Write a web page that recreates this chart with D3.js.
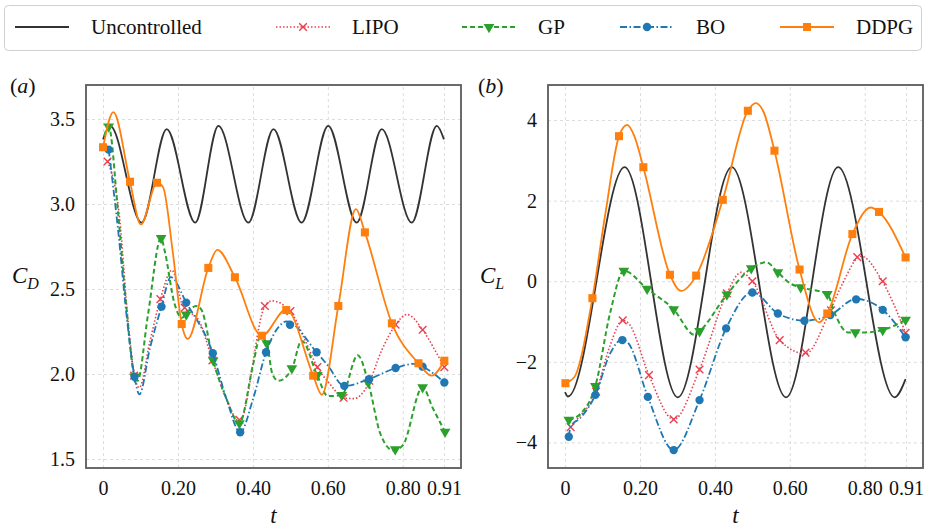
<!DOCTYPE html>
<html>
<head>
<meta charset="utf-8">
<title>CD / CL</title>
<script src="https://cdn.jsdelivr.net/npm/d3@7"></script>
<style>
body{margin:0;background:#fff}
svg text{font-family:"Times New Roman","Liberation Serif",Times,"DejaVu Serif",serif !important;fill:#111}
</style>
</head>
<body>
<script>
// ---- data: [t, value] ----
var names = ["Uncontrolled", "LIPO", "GP", "BO", "DDPG"];
var colors = ["#333333", "#e8404f", "#2ca02c", "#1f77b4", "#ff7f0e"];

var tTicks = [0, 0.2, 0.4, 0.6, 0.8, 0.91];
var tTickLabels = ["0", "0.20", "0.40", "0.60", "0.80", "0.91"];
var cdTicks = [1.5, 2.0, 2.5, 3.0, 3.5];
var cdTickLabels = ["1.5", "2.0", "2.5", "3.0", "3.5"];
var clTicks = [-4, -2, 0, 2, 4];
var clTickLabels = ["\u22124", "\u22122", "0", "2", "4"];

// panel (a) drag
var cdUncontrolled = [[0,3.38],[0.019,3.46],[0.103,2.89],[0.170,3.44],[0.246,2.89],[0.308,3.46],[0.388,2.89],
  [0.455,3.44],[0.530,2.89],[0.601,3.46],[0.677,2.89],[0.744,3.44],[0.824,2.89],[0.891,3.46],[0.91,3.38]];
var cdLipo = [[0.012,3.25],[0.044,2.92],[0.066,2.33],[0.085,1.98],[0.097,1.92],[0.124,2.18],[0.153,2.44],[0.184,2.61],
  [0.213,2.40],[0.257,2.31],[0.292,2.08],[0.33,1.85],[0.364,1.72],[0.432,2.40],[0.45,2.43],[0.50,2.37],[0.535,2.22],
  [0.572,2.04],[0.606,1.94],[0.642,1.86],[0.67,1.855],[0.708,1.94],[0.744,2.14],[0.781,2.29],[0.811,2.35],[0.853,2.26],
  [0.886,2.14],[0.911,2.04]];
var cdLipoMarks = [[0.012,3.25],[0.083,1.99],[0.153,2.44],[0.218,2.39],[0.292,2.08],[0.364,1.73],[0.432,2.40],[0.50,2.37],
  [0.572,2.04],[0.642,1.86],[0.711,1.96],[0.781,2.29],[0.853,2.26],[0.911,2.04]];
var cdGp = [[0.003,3.40],[0.015,3.455],[0.04,2.95],[0.062,2.40],[0.084,1.984],[0.092,1.96],[0.12,2.35],[0.155,2.80],
  [0.165,2.72],[0.19,2.42],[0.21,2.33],[0.228,2.37],[0.248,2.40],[0.262,2.38],[0.294,2.08],[0.33,1.85],[0.364,1.71],
  [0.40,2.05],[0.42,2.22],[0.437,2.18],[0.452,2.0],[0.468,1.96],[0.504,2.03],[0.53,2.196],[0.572,1.99],[0.60,1.87],
  [0.637,1.876],[0.68,2.11],[0.708,1.95],[0.74,1.65],[0.775,1.55],[0.80,1.58],[0.853,1.922],[0.88,1.80],[0.913,1.66]];
var cdGpMarks = [[0.015,3.455],[0.084,1.984],[0.155,2.80],[0.222,2.35],[0.294,2.08],[0.364,1.71],[0.437,2.18],[0.504,2.033],
  [0.572,1.994],[0.637,1.876],[0.708,1.95],[0.78,1.557],[0.853,1.922],[0.913,1.66]];
var cdBo = [[0.015,3.32],[0.04,2.85],[0.065,2.30],[0.084,1.984],[0.097,1.88],[0.125,2.15],[0.156,2.396],[0.181,2.57],
  [0.222,2.42],[0.293,2.122],[0.33,1.85],[0.366,1.657],[0.40,1.85],[0.435,2.128],[0.47,2.28],[0.49,2.31],[0.57,2.128],
  [0.60,2.05],[0.644,1.93],[0.71,1.97],[0.781,2.035],[0.83,2.06],[0.853,2.043],[0.911,1.95]];
var cdBoMarks = [[0.015,3.32],[0.084,1.984],[0.156,2.396],[0.222,2.42],[0.293,2.122],[0.366,1.657],[0.435,2.128],[0.499,2.29],
  [0.57,2.128],[0.644,1.93],[0.71,1.97],[0.781,2.035],[0.853,2.043],[0.911,1.95]];
var cdDdpg = [[0,3.33],[0.0275,3.54],[0.072,3.13],[0.101,2.88],[0.144,3.125],[0.16,3.10],[0.186,2.72],[0.21,2.294],
  [0.226,2.206],[0.281,2.624],[0.305,2.73],[0.352,2.569],[0.424,2.225],[0.489,2.38],[0.561,1.99],[0.584,1.878],
  [0.628,2.40],[0.675,2.97],[0.699,2.833],[0.771,2.298],[0.842,2.063],[0.877,1.99],[0.911,2.078]];
var cdDdpgMarks = [[0,3.334],[0.072,3.131],[0.144,3.125],[0.21,2.294],[0.281,2.624],[0.352,2.569],[0.424,2.225],[0.489,2.376],
  [0.561,1.99],[0.628,2.40],[0.699,2.833],[0.771,2.298],[0.842,2.063],[0.911,2.078]];

// panel (b) lift
var clUncontrolled = [[0,-2.75],[0.008,-2.86],[0.159,2.83],[0.301,-2.88],[0.445,2.83],[0.59,-2.88],[0.729,2.83],
  [0.88,-2.88],[0.909,-2.43]];
var clLipo = [[0.015,-3.63],[0.03,-3.45],[0.083,-2.74],[0.12,-1.6],[0.154,-0.97],[0.17,-1.05],[0.224,-2.33],[0.29,-3.43],
  [0.359,-2.19],[0.432,-0.30],[0.47,0.22],[0.50,0.0],[0.573,-1.46],[0.642,-1.80],[0.704,-0.81],[0.74,-0.07],[0.79,0.62],
  [0.848,-0.02],[0.909,-1.28]];
var clLipoMarks = [[0.015,-3.62],[0.083,-2.74],[0.154,-0.97],[0.224,-2.33],[0.29,-3.43],[0.359,-2.19],[0.432,-0.30],[0.50,0.0],
  [0.573,-1.46],[0.642,-1.77],[0.71,-0.72],[0.78,0.6],[0.848,0.0],[0.909,-1.28]];
var clGp = [[0.01,-3.44],[0.04,-3.3],[0.081,-2.60],[0.12,-0.8],[0.157,0.26],[0.219,-0.19],[0.29,-0.70],[0.346,-1.33],
  [0.359,-1.24],[0.432,-0.33],[0.497,0.32],[0.537,0.47],[0.568,0.22],[0.6,-0.05],[0.629,-0.15],[0.70,-0.32],[0.72,-0.8],
  [0.755,-1.27],[0.80,-1.27],[0.848,-1.21],[0.909,-0.96]];
var clGpMarks = [[0.01,-3.44],[0.081,-2.60],[0.157,0.26],[0.219,-0.19],[0.29,-0.70],[0.359,-1.24],[0.432,-0.33],[0.497,0.32],
  [0.568,0.22],[0.629,-0.15],[0.70,-0.32],[0.775,-1.27],[0.848,-1.21],[0.909,-0.96]];
var clBo = [[0.01,-3.86],[0.015,-3.6],[0.04,-3.4],[0.081,-2.82],[0.12,-1.8],[0.153,-1.44],[0.17,-1.55],[0.221,-2.87],
  [0.29,-4.19],[0.359,-2.95],[0.43,-1.17],[0.50,-0.27],[0.568,-0.80],[0.639,-0.98],[0.708,-0.84],[0.777,-0.44],
  [0.848,-0.71],[0.909,-1.39]];
var clBoMarks = [[0.01,-3.86],[0.081,-2.82],[0.153,-1.46],[0.221,-2.87],[0.29,-4.19],[0.359,-2.95],[0.43,-1.17],[0.50,-0.28],
  [0.568,-0.80],[0.639,-0.98],[0.708,-0.84],[0.777,-0.45],[0.848,-0.71],[0.909,-1.39]];
var clDdpg = [[0,-2.53],[0.024,-2.39],[0.073,-0.42],[0.108,1.7],[0.144,3.60],[0.166,3.88],[0.185,3.6],[0.209,2.83],
  [0.28,0.16],[0.31,-0.24],[0.35,0.14],[0.421,2.02],[0.488,4.23],[0.509,4.42],[0.53,4.2],[0.559,3.24],[0.626,0.29],
  [0.678,-1.02],[0.70,-0.80],[0.767,1.17],[0.816,1.83],[0.838,1.72],[0.909,0.59]];
var clDdpgMarks = [[0.001,-2.53],[0.073,-0.42],[0.144,3.60],[0.209,2.83],[0.28,0.16],[0.35,0.14],[0.421,2.02],[0.488,4.23],
  [0.559,3.24],[0.626,0.29],[0.70,-0.80],[0.767,1.17],[0.838,1.72],[0.909,0.59]];

// ---- drawing ----
var svg = d3.select("body").append("svg").attr("width", 926).attr("height", 528);

var dashes = ["none", "1.5,2", "5,3", "7,2.5,1.5,2.5", "none"];
var widths = [1.8, 1.6, 2, 1.8, 1.8];
var symbols = [null, d3.symbolX, d3.symbolTriangle, d3.symbolCircle, d3.symbolSquare];
var symSize = [0, 40, 50, 55, 65];

function marker(g, i, x, y) {
  if (!symbols[i]) return;
  var p = g.append("path")
    .attr("d", d3.symbol().type(symbols[i]).size(symSize[i])())
    .attr("transform", "translate(" + x + "," + y + ")" + (i == 2 ? " rotate(180)" : ""));
  if (i == 1) p.attr("fill", "none").attr("stroke", colors[i]).attr("stroke-width", 1.4);
  else p.attr("fill", colors[i]);
}

function panel(o) {
  var x = d3.scaleLinear().domain([-0.0455, 0.9555]).range([o.x0, o.x1]);
  var y = d3.scaleLinear().domain(o.yDomain).range([o.y1, o.y0]);
  var g = svg.append("g");

  // grid
  g.append("g").attr("transform", "translate(0," + o.y1 + ")")
    .call(d3.axisBottom(x).tickValues(tTicks).tickSize(-(o.y1 - o.y0)).tickFormat(""))
    .call(function (s) { s.select(".domain").remove(); });
  g.append("g").attr("transform", "translate(" + o.x0 + ",0)")
    .call(d3.axisLeft(y).tickValues(o.yTicks).tickSize(-(o.x1 - o.x0)).tickFormat(""))
    .call(function (s) { s.select(".domain").remove(); });
  g.selectAll(".tick line").attr("stroke", "#dcdcdc").attr("stroke-dasharray", "3,3").attr("stroke-width", 1);

  // tick labels
  var xa = g.append("g").attr("transform", "translate(0," + o.y1 + ")")
    .call(d3.axisBottom(x).tickValues(tTicks).tickSize(0).tickPadding(13)
      .tickFormat(function (d, i) { return tTickLabels[i]; }));
  var ya = g.append("g").attr("transform", "translate(" + o.x0 + ",0)")
    .call(d3.axisLeft(y).tickValues(o.yTicks).tickSize(0).tickPadding(11)
      .tickFormat(function (d, i) { return o.yLabels[i]; }));
  [xa, ya].forEach(function (a) {
    a.select(".domain").remove();
    a.attr("font-family", null).attr("font-size", null);
    a.selectAll("text").attr("font-size", 20).attr("fill", "#111");
  });

  var clipId = "clip" + o.id;
  svg.append("clipPath").attr("id", clipId).append("rect")
    .attr("x", o.x0).attr("y", o.y0).attr("width", o.x1 - o.x0).attr("height", o.y1 - o.y0);

  var line = d3.line().x(function (d) { return x(d[0]); }).y(function (d) { return y(d[1]); })
    .curve(d3.curveMonotoneX);
  var plot = g.append("g").attr("clip-path", "url(#" + clipId + ")");
  o.series.forEach(function (s, i) {
    plot.append("path").datum(s.line)
      .attr("d", line).attr("fill", "none")
      .attr("stroke", colors[i]).attr("stroke-width", widths[i])
      .attr("stroke-dasharray", dashes[i]);
    if (s.marks) s.marks.forEach(function (d) { marker(plot, i, x(d[0]), y(d[1])); });
  });

  // frame
  g.append("rect").attr("x", o.x0).attr("y", o.y0).attr("width", o.x1 - o.x0).attr("height", o.y1 - o.y0)
    .attr("fill", "none").attr("stroke", "#5a5a5a").attr("stroke-width", 1.8);

  // labels
  var lab = g.append("text").attr("x", o.lx).attr("y", 93).attr("font-size", 22);
  lab.append("tspan").text("(");
  lab.append("tspan").attr("font-style", "italic").text(o.letter);
  lab.append("tspan").text(")");

  var yl = g.append("text").attr("x", o.lx + 2).attr("y", 283).attr("font-size", 23).attr("font-style", "italic");
  yl.append("tspan").text("C");
  yl.append("tspan").attr("font-size", 16).attr("dy", 6).text(o.sub);

  g.append("text").attr("x", (o.x0 + o.x1) / 2).attr("y", 523).attr("text-anchor", "middle")
    .attr("font-size", 23).attr("font-style", "italic").text("t");
}

panel({
  id: "a", x0: 86, x1: 461, y0: 85, y1: 468, yDomain: [1.447, 3.70], yTicks: cdTicks, yLabels: cdTickLabels,
  letter: "a", sub: "D", lx: 10,
  series: [{line: cdUncontrolled}, {line: cdLipo, marks: cdLipoMarks}, {line: cdGp, marks: cdGpMarks},
    {line: cdBo, marks: cdBoMarks}, {line: cdDdpg, marks: cdDdpgMarks}]
});
panel({
  id: "b", x0: 548, x1: 923, y0: 85, y1: 468, yDomain: [-4.635, 4.87], yTicks: clTicks, yLabels: clTickLabels,
  letter: "b", sub: "L", lx: 478,
  series: [{line: clUncontrolled}, {line: clLipo, marks: clLipoMarks}, {line: clGp, marks: clGpMarks},
    {line: clBo, marks: clBoMarks}, {line: clDdpg, marks: clDdpgMarks}]
});

// legend
var leg = svg.append("g");
leg.append("rect").attr("x", 4.5).attr("y", 5.5).attr("width", 917).attr("height", 45).attr("rx", 4)
  .attr("fill", "#fff").attr("stroke", "#d0d0d0").attr("stroke-width", 1);
var legX = [15, 276, 462, 620, 780];
names.forEach(function (n, i) {
  var lg = leg.append("g");
  lg.append("line").attr("x1", legX[i]).attr("x2", legX[i] + 54).attr("y1", 27).attr("y2", 27)
    .attr("stroke", colors[i]).attr("stroke-width", widths[i]).attr("stroke-dasharray", dashes[i]);
  marker(lg, i, legX[i] + 27, 27);
  lg.append("text").attr("x", legX[i] + 76).attr("y", 27).attr("dy", "0.35em")
    .attr("font-size", 21).text(n);
});
</script>
</body>
</html>
